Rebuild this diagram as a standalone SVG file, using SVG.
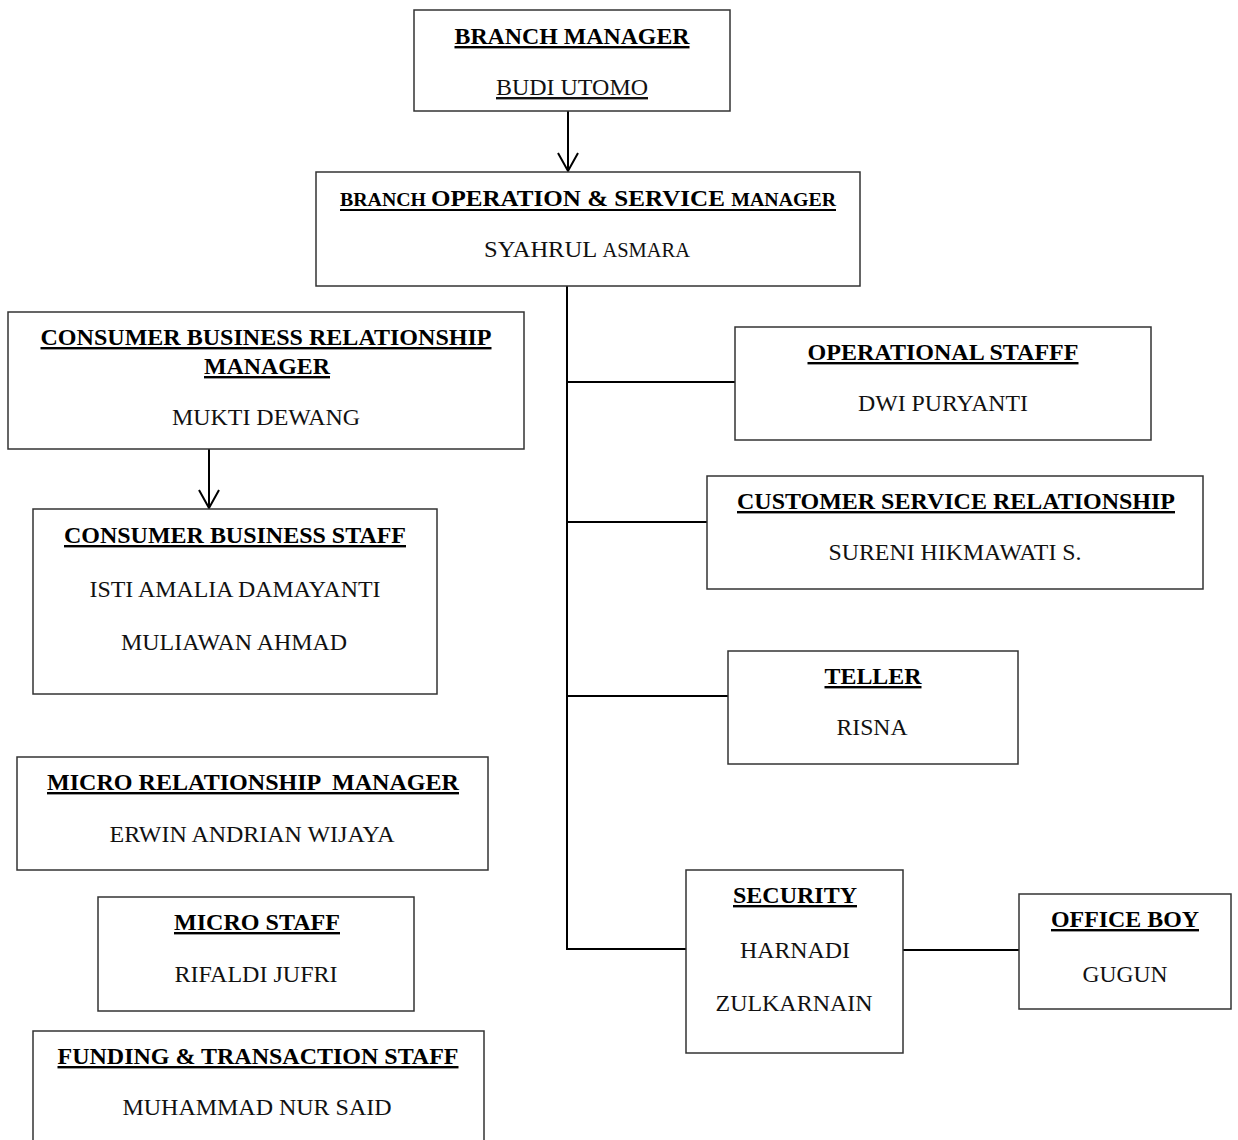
<svg xmlns="http://www.w3.org/2000/svg" width="1238" height="1140" viewBox="0 0 1238 1140">
<style>
.box{fill:#fff;stroke:#333;stroke-width:1.5}
.t{font-family:"Liberation Serif","Times New Roman",serif;font-size:24px;fill:#000;text-anchor:middle;text-decoration:underline;font-weight:bold}
.n{font-family:"Liberation Serif","Times New Roman",serif;font-size:24px;fill:#111;text-anchor:middle}
.c{fill:none;stroke:#000;stroke-width:2}
</style>
<rect width="1238" height="1140" fill="#fff"/>
<g id="connectors">
<line class="c" x1="568" y1="111" x2="568" y2="171"/>
<polyline class="c" points="558,153 568,171 578,153"/>
<line class="c" x1="567" y1="284" x2="567" y2="949"/>
<line class="c" x1="567" y1="382" x2="735" y2="382"/>
<line class="c" x1="566" y1="522" x2="707" y2="522"/>
<line class="c" x1="566" y1="696" x2="728" y2="696"/>
<line class="c" x1="566" y1="949" x2="686" y2="949"/>
<line class="c" x1="903" y1="950" x2="1019" y2="950"/>
<line class="c" x1="209" y1="449" x2="209" y2="508"/>
<polyline class="c" points="199,490 209,508 219,490"/>
</g>
<g id="branch-manager">
<rect class="box" x="414" y="10" width="316" height="101"/>
<text class="t" x="572" y="44" textLength="235" lengthAdjust="spacingAndGlyphs">BRANCH MANAGER</text>
<text class="n" x="572" y="95" text-decoration="underline" textLength="152" lengthAdjust="spacingAndGlyphs">BUDI UTOMO</text>
</g>
<g id="branch-operation-service-manager">
<rect class="box" x="316" y="172" width="544" height="114"/>
<text class="t" x="588" y="206" text-decoration="none" style="text-decoration:none" textLength="496" lengthAdjust="spacingAndGlyphs"><tspan font-size="19">BRANCH </tspan>OPERATION &amp; SERVICE <tspan font-size="19">MANAGER</tspan></text>
<line x1="340" y1="210" x2="836" y2="210" stroke="#000" stroke-width="2"/>
<text class="n" x="587" y="257" textLength="206" lengthAdjust="spacingAndGlyphs">SYAHRUL <tspan font-size="20">ASMARA</tspan></text>
</g>
<g id="consumer-business-relationship-manager">
<rect class="box" x="8" y="312" width="516" height="137"/>
<text class="t" x="266" y="345" textLength="451" lengthAdjust="spacingAndGlyphs">CONSUMER BUSINESS RELATIONSHIP</text>
<text class="t" x="267" y="374" textLength="126" lengthAdjust="spacingAndGlyphs">MANAGER</text>
<text class="n" x="266" y="425" textLength="188" lengthAdjust="spacingAndGlyphs">MUKTI DEWANG</text>
</g>
<g id="consumer-business-staff">
<rect class="box" x="33" y="509" width="404" height="185"/>
<text class="t" x="235" y="543" textLength="342" lengthAdjust="spacingAndGlyphs">CONSUMER BUSINESS STAFF</text>
<text class="n" x="235" y="597" textLength="291" lengthAdjust="spacingAndGlyphs">ISTI AMALIA DAMAYANTI</text>
<text class="n" x="234" y="650" textLength="226" lengthAdjust="spacingAndGlyphs">MULIAWAN AHMAD</text>
</g>
<g id="operational-staff">
<rect class="box" x="735" y="327" width="416" height="113"/>
<text class="t" x="943" y="360" textLength="271" lengthAdjust="spacingAndGlyphs">OPERATIONAL STAFFF</text>
<text class="n" x="943" y="411" textLength="170" lengthAdjust="spacingAndGlyphs">DWI PURYANTI</text>
</g>
<g id="customer-service-relationship">
<rect class="box" x="707" y="476" width="496" height="113"/>
<text class="t" x="956" y="509" textLength="438" lengthAdjust="spacingAndGlyphs">CUSTOMER SERVICE RELATIONSHIP</text>
<text class="n" x="955" y="560" textLength="253" lengthAdjust="spacingAndGlyphs">SURENI HIKMAWATI S.</text>
</g>
<g id="teller">
<rect class="box" x="728" y="651" width="290" height="113"/>
<text class="t" x="873" y="684" textLength="97" lengthAdjust="spacingAndGlyphs">TELLER</text>
<text class="n" x="872" y="735" textLength="71" lengthAdjust="spacingAndGlyphs">RISNA</text>
</g>
<g id="security">
<rect class="box" x="686" y="870" width="217" height="183"/>
<text class="t" x="795" y="903" textLength="124" lengthAdjust="spacingAndGlyphs">SECURITY</text>
<text class="n" x="795" y="958" textLength="110" lengthAdjust="spacingAndGlyphs">HARNADI</text>
<text class="n" x="794" y="1011" textLength="157" lengthAdjust="spacingAndGlyphs">ZULKARNAIN</text>
</g>
<g id="office-boy">
<rect class="box" x="1019" y="894" width="212" height="115"/>
<text class="t" x="1125" y="927" textLength="148" lengthAdjust="spacingAndGlyphs">OFFICE BOY</text>
<text class="n" x="1125" y="982" textLength="85" lengthAdjust="spacingAndGlyphs">GUGUN</text>
</g>
<g id="micro-relationship-manager">
<rect class="box" x="17" y="757" width="471" height="113"/>
<text class="t" x="253" y="790" xml:space="preserve" textLength="412" lengthAdjust="spacingAndGlyphs">MICRO RELATIONSHIP  MANAGER</text>
<text class="n" x="252" y="842" textLength="285" lengthAdjust="spacingAndGlyphs">ERWIN ANDRIAN WIJAYA</text>
</g>
<g id="micro-staff">
<rect class="box" x="98" y="897" width="316" height="114"/>
<text class="t" x="257" y="930" textLength="166" lengthAdjust="spacingAndGlyphs">MICRO STAFF</text>
<text class="n" x="256" y="982" textLength="163" lengthAdjust="spacingAndGlyphs">RIFALDI JUFRI</text>
</g>
<g id="funding-transaction-staff">
<rect class="box" x="33" y="1031" width="451" height="120"/>
<text class="t" x="258" y="1064" textLength="401" lengthAdjust="spacingAndGlyphs">FUNDING &amp; TRANSACTION STAFF</text>
<text class="n" x="257" y="1115" textLength="269" lengthAdjust="spacingAndGlyphs">MUHAMMAD NUR SAID</text>
</g>
</svg>
